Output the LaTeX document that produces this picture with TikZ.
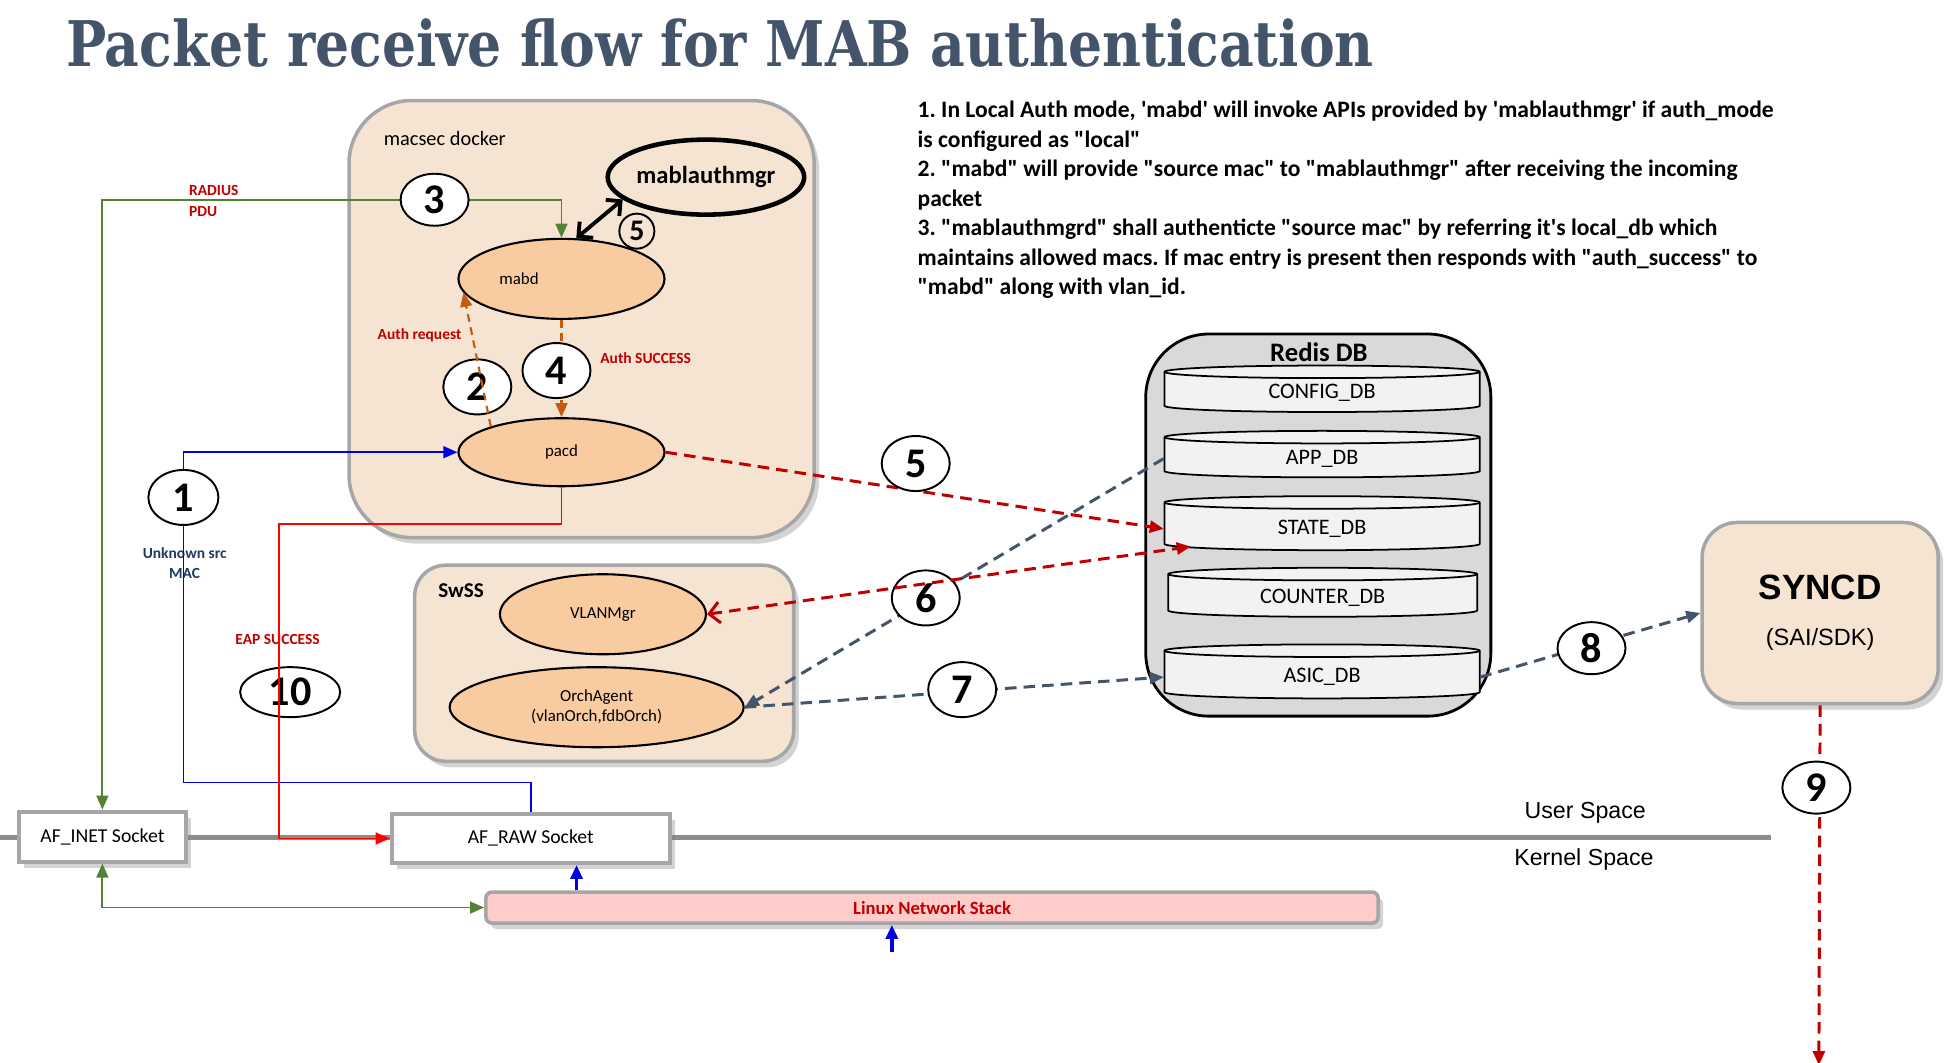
\documentclass[tikz,border=0pt]{standalone}
\usepackage{graphicx}
\usepackage{fontspec}
\setmainfont{Carlito}
\newfontfamily\titlefont{DejaVu Serif}
\newfontfamily\arialfont{Liberation Sans}
\usepackage{tikz}
\usetikzlibrary{arrows.meta, shapes.geometric, shadows}
\frenchspacing

\definecolor{titleslate}{HTML}{44546A}
\definecolor{peach}{HTML}{F6E4D3}
\definecolor{procfill}{HTML}{F8CBA0}
\definecolor{boxgray}{HTML}{A6A6A6}
\definecolor{lblred}{HTML}{C00000}
\definecolor{orgline}{HTML}{C55A11}
\definecolor{greenline}{HTML}{548235}
\definecolor{blueline}{HTML}{0000E0}
\definecolor{navytext}{HTML}{1F3864}
\definecolor{redisgray}{HTML}{D9D9D9}
\definecolor{diskfill}{HTML}{F2F2F2}
\definecolor{stackpink}{HTML}{FFCCCC}
\definecolor{divider}{HTML}{8C8C8C}

\newcommand{\dq}{\textquotedbl}
\newcommand{\sq}{\textquotesingle}

\tikzset{
  boxshadow/.style={drop shadow={shadow xshift=0.05cm, shadow yshift=-0.06cm, opacity=0.35}},
  dockbox/.style={draw=boxgray, line width=1pt, fill=peach, inner sep=0pt, boxshadow},
  proc/.style={ellipse, draw, line width=0.6pt, fill=procfill, inner sep=0pt, align=center, font=\fontsize{4.8}{5.7}\selectfont},
  stepnum/.style={ellipse, draw, line width=0.55pt, fill=white, inner sep=0pt, minimum width=0.68cm, minimum height=0.52cm, font=\bfseries\fontsize{12}{12}\selectfont},
  sockbox/.style={draw=boxgray, line width=1.1pt, fill=white, inner sep=0pt, boxshadow, font=\fontsize{5.6}{6}\selectfont},
  dbname/.style={inner sep=0pt, minimum height=0.34cm, font=\fontsize{6.3}{7}\selectfont},
  disk/.style={draw, line width=0.5pt, fill=diskfill},
  flowlbl/.style={text=lblred, inner sep=0pt, font=\bfseries\fontsize{4.4}{5.7}\selectfont},
  spacelbl/.style={inner sep=0pt, font=\arialfont\fontsize{6.6}{7}\selectfont},
  greenln/.style={draw=greenline, line width=0.5pt},
  blueln/.style={draw=blueline, line width=0.5pt},
  redln/.style={draw=red, line width=0.5pt},
  orgdash/.style={draw=orgline, line width=0.6pt, dash pattern=on 2.2pt off 1.6pt},
  reddash/.style={draw=lblred, line width=0.85pt, dash pattern=on 3.3pt off 2pt},
  slatedash/.style={draw=titleslate, line width=0.85pt, dash pattern=on 3.3pt off 2pt}
}

\begin{document}
\begin{tikzpicture}[x=0.01256cm, y=0.01256cm, >={Triangle[length=4pt,width=3.4pt]}]
\useasboundingbox (0,0) rectangle (1550,-846);

\node[anchor=base west, inner sep=0pt, text=titleslate] (title) at (52,-53)
  {\resizebox{372pt}{13.6pt}{\titlefont\bfseries Packet receive flow for MAB authentication}};

\node[anchor=north west, inner sep=0pt, align=left, font=\bfseries\fontsize{6.7}{8.4}\selectfont] (notes) at (730,-80)
  {1. In Local Auth mode, \sq mabd\sq\ will invoke APIs provided by \sq mablauthmgr\sq\ if auth\_mode\\
   is configured as \dq local\dq\\
   2. \dq mabd\dq\ will provide \dq source mac\dq\ to \dq mablauthmgr\dq\ after receiving the incoming\\
   packet\\
   3. \dq mablauthmgrd\dq\ shall authenticte \dq source mac\dq\ by referring it\sq s local\_db which\\
   maintains allowed macs. If mac entry is present then responds with \dq auth\_success\dq\ to\\
   \dq mabd\dq\ along with vlan\_id.};

% containers
\node[dockbox, rounded corners=0.63cm, minimum width=4.65cm, minimum height=4.37cm] (macsec) at (463,-254) {};
\node[anchor=west, inner sep=0pt, font=\fontsize{5.8}{7}\selectfont] at (305,-110) {macsec docker};
\node[dockbox, rounded corners=0.31cm, minimum width=3.79cm, minimum height=1.96cm] (swss) at (481,-528) {};
\node[inner sep=0pt, font=\bfseries\fontsize{6}{7}\selectfont] at (367,-470) {SwSS};
\node[draw, line width=0.8pt, fill=redisgray, rounded corners=0.63cm, minimum width=3.45cm, minimum height=3.82cm] (redis) at (1049.5,-418) {};
\node[inner sep=0pt, font=\bfseries\fontsize{7.6}{8}\selectfont] at (1050,-280) {Redis DB};
\node[dockbox, rounded corners=0.35cm, minimum width=2.36cm, minimum height=1.81cm, align=center, font=\arialfont] (syncd) at (1449,-488)
  {{\bfseries\fontsize{10}{10}\selectfont SYNCD}\\[1pt]{\fontsize{6.7}{8}\selectfont (SAI/SDK)}};

% user / kernel split
\draw[divider, line width=1.4pt] (0,-667) -- (1410,-667);
\node[sockbox, minimum width=1.67cm, minimum height=0.5cm] (inet) at (81.5,-666) {AF\_INET Socket};
\node[sockbox, minimum width=2.78cm, minimum height=0.49cm] (raw) at (422.5,-667.5) {AF\_RAW Socket};
\node[draw=boxgray, line width=1pt, fill=stackpink, rounded corners=0.06cm, minimum width=8.92cm, minimum height=0.31cm, inner sep=0pt, boxshadow, text=lblred, font=\bfseries\fontsize{5.3}{6}\selectfont] (stack) at (742,-722.5) {Linux Network Stack};
\node[spacelbl] at (1262,-647) {User Space};
\node[spacelbl] at (1261,-684) {Kernel Space};

% redis tables
\foreach \cy/\b/\cx/\a in {309.5/13.5/1052.5/125.5, 361.5/13.5/1052.5/125.5, 416.5/16.5/1052.5/125.5, 471.5/14.5/1053/123, 534.5/16.5/1052.5/125.5}{
  \draw[disk] (\cx-\a,-\cy+\b) -- (\cx-\a,-\cy-\b) arc[start angle=180, end angle=360, x radius=\a, y radius=5]
    -- (\cx+\a,-\cy+\b) arc[start angle=0, end angle=180, x radius=\a, y radius=5] -- cycle;
  \draw[line width=0.5pt] (\cx-\a,-\cy+\b) arc[start angle=180, end angle=360, x radius=\a, y radius=5];
}
\node[dbname, minimum width=3.15cm] (cfg) at (1052.5,-313) {CONFIG\_DB};
\node[dbname, minimum width=3.15cm] (app) at (1052.5,-365) {APP\_DB};
\node[dbname, minimum width=3.15cm] (state) at (1052.5,-421) {STATE\_DB};
\node[dbname, minimum width=3.09cm] (counter) at (1053,-476) {COUNTER\_DB};
\node[dbname, minimum width=3.15cm] (asic) at (1052.5,-539) {ASIC\_DB};

% daemons
\node[proc, draw=black, line width=1.3pt, fill=none, minimum width=1.96cm, minimum height=0.75cm, font=\bfseries\fontsize{7}{8}\selectfont] (mabauth) at (562,-141) {mablauthmgr};
\node[proc, minimum width=2.06cm, minimum height=0.80cm] (mabd) at (447,-222) {mabd\hspace{0.85cm}};
\node[proc, minimum width=2.06cm, minimum height=0.68cm] (pacd) at (447,-360) {pacd};
\node[proc, minimum width=2.06cm, minimum height=0.80cm] (vlanmgr) at (480,-489) {VLANMgr};
\node[proc, minimum width=2.94cm, minimum height=0.80cm] (orch) at (475,-563) {OrchAgent\\(vlanOrch,fdbOrch)};

% flow labels
\node[flowlbl, anchor=west, align=left] at (150,-160) {RADIUS\\PDU};
\node[flowlbl] at (334,-267) {Auth request};
\node[flowlbl] at (514,-285) {Auth SUCCESS};
\node[flowlbl] at (221,-509) {EAP SUCCESS};
\node[flowlbl, text=navytext, align=center] at (147,-448) {Unknown src\\MAC};

% connectors under the step numbers
\draw[greenln,<->] (inet.north) |- (mabd.north |- 0,-159) -- (mabd.north);
\draw[greenln,<->] (inet.south) |- (stack.west);
\draw[blueln,->] (raw.north) |- (146,-623) |- (pacd.west);
\draw[blueln,line width=1pt,->] (stack.north -| 459,0) -- (raw.south -| 459,0);
\coordinate (wire) at (710,-758);
\draw[blueln,line width=1pt,->] (wire) -- (stack.south -| wire);
\draw[orgdash,->] (mabd.south) -- (pacd.north);
\draw[reddash,->] (pacd.east) -- (state.west);
\draw[slatedash,->] (app.west) -- (orch.east);
\draw[slatedash,->] (orch.east) -- (asic.west);
\draw[slatedash,->] (asic.east) -- (syncd.west);
\coordinate (asicport) at (1448,-848);
\draw[reddash,->] (syncd.south) -- (asicport);
\draw[line width=1.1pt, {Straight Barb[length=3pt,width=6pt]}-{Straight Barb[length=3pt,width=6pt]}] (mabd.70) -- (mabauth.195);

% step numbers
\node[stepnum, minimum width=0.70cm, minimum height=0.55cm] (n1) at (146,-396) {1};
\node[stepnum, minimum height=0.55cm] (n2) at (380,-308) {2};
\node[stepnum] (n3) at (346,-159) {3};
\node[stepnum, minimum height=0.55cm] (n4) at (443,-295) {4};
\node[stepnum, minimum height=0.55cm] (n5) at (729,-369) {5};
\node[stepnum, minimum height=0.55cm] (n6) at (737,-476) {6};
\node[stepnum, minimum height=0.55cm] (n7) at (766,-549) {7};
\node[stepnum] (n8) at (1267,-516) {8};
\node[stepnum] (n9) at (1446,-627) {9};
\node[stepnum, minimum width=1.0cm, minimum height=0.5cm] (n10) at (231,-551) {10};
\node[stepnum, fill=none, minimum width=0.35cm, minimum height=0.35cm, font=\bfseries\fontsize{8.5}{9}\selectfont] (n5s) at (507,-184) {5};

% connectors over the step numbers
\draw[orgdash,->] (pacd.160) -- (mabd.188);
\draw[redln,->] (pacd.south) |- (222,-417) |- (raw.west);
\draw[reddash,{Straight Barb[length=3pt,width=6pt]}->] (vlanmgr.east) -- ([xshift=0.27cm]state.south west);
\end{tikzpicture}
\end{document}
